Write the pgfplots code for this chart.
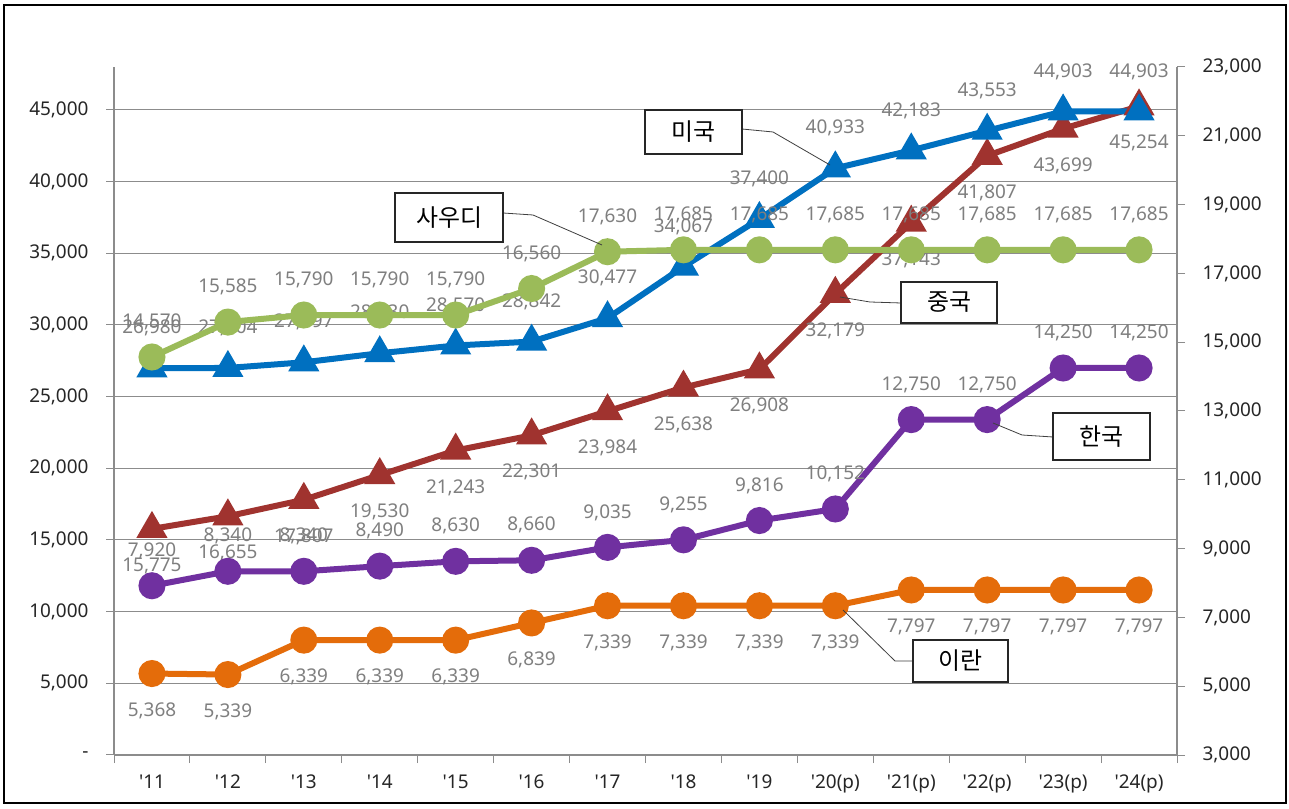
\documentclass[border=0pt]{standalone}
\usepackage{fontspec}
\setmainfont{Noto Sans}
\newfontfamily\kr{Noto Sans CJK KR}
\usepackage{pgfplots}
\pgfplotsset{compat=1.18}
\usepackage{pgfplotstable}

\definecolor{cUS}{HTML}{0070C0}
\definecolor{cSA}{HTML}{9BBB59}
\definecolor{cCN}{HTML}{A0332F}
\definecolor{cKR}{HTML}{7030A0}
\definecolor{cIR}{HTML}{E46C0A}
\definecolor{labc}{HTML}{7F7F7F}
\definecolor{gridc}{HTML}{8C8C8C}
\definecolor{tickc}{HTML}{262626}

\pgfplotstableread{
x us cn sa kr ir
0 26980 15775 14570 7920 5368
1 27004 16655 15585 8340 5339
2 27397 17807 15790 8340 6339
3 28030 19530 15790 8490 6339
4 28570 21243 15790 8630 6339
5 28842 22301 16560 8660 6839
6 30477 23984 17630 9035 7339
7 34067 25638 17685 9255 7339
8 37400 26908 17685 9816 7339
9 40933 32179 17685 10152 7339
10 42183 37143 17685 12750 7797
11 43553 41807 17685 12750 7797
12 44903 43699 17685 14250 7797
13 44903 45254 17685 14250 7797
}\data

\pgfplotsset{
  base/.style={
    at={(114bp,54bp)}, anchor=south west,
    scale only axis, width=1063bp, height=688bp,
    xmin=-0.5, xmax=13.5,
    scaled y ticks=false, scaled x ticks=false,
    axis line style={draw=gridc, line width=1.2bp},
    tick style={draw=gridc, line width=1bp},
    tick align=outside, major tick length=8bp,
    ticklabel style={font=\fontsize{19}{22}\selectfont, text=tickc},
    /pgf/number format/.cd, fixed, precision=0, 1000 sep={,}, assume math mode=true,
  },
  lbl/.style={
    nodes near coords={\pgfmathprintnumber{\pgfplotspointmeta}},
    every node near coord/.append style={font=\fontsize{19}{22}\selectfont, text=labc, anchor=center, yshift=#1},
  },
}

\begin{document}
\begin{tikzpicture}
\path[use as bounding box] (0,0) rectangle (1289bp,809bp);
\fill[white] (0,0) rectangle (1289bp,809bp);
\begin{axis}[base,
  ymin=0, ymax=48000,
  axis x line*=bottom, axis y line*=left,
  xtick={0,...,13},
  xticklabels={\textquotesingle11,\textquotesingle12,\textquotesingle13,\textquotesingle14,\textquotesingle15,\textquotesingle16,\textquotesingle17,\textquotesingle18,\textquotesingle19,\textquotesingle20(p),\textquotesingle21(p),\textquotesingle22(p),\textquotesingle23(p),\textquotesingle24(p)},
  xtick style={draw=none},
  xticklabel style={yshift=-8bp},
  extra x ticks={-0.5,0.5,...,13.5},
  extra x tick labels={},
  extra x tick style={xtick style={draw=gridc, line width=1bp}},
  ytick={0,5000,...,45000},
  yticklabels={-,{5,000},{10,000},{15,000},{20,000},{25,000},{30,000},{35,000},{40,000},{45,000}},
  yticklabel style={xshift=-14bp},
  ymajorgrids, grid style={draw=gridc, line width=1bp},
]
\addplot[cCN, line width=6bp, mark=triangle*, mark size=12bp, mark options={solid}, lbl=-37bp] table[x=x, y=cn] {\data};
\addplot[cUS, line width=6bp, mark=triangle*, mark size=12bp, mark options={solid}, lbl=40bp] table[x=x, y=us] {\data};
\end{axis}
\begin{axis}[base,
  ymin=3000, ymax=23000,
  axis x line=none, axis y line*=right,
  xtick=\empty,
  ytick={3000,5000,...,23000},
  yticklabel style={xshift=14bp},
]
\addplot[cIR, line width=6bp, mark=*, mark size=10.5bp, lbl=-37bp] table[x=x, y=ir] {\data};
\addplot[cKR, line width=6bp, mark=*, mark size=10.5bp, lbl=35bp] table[x=x, y=kr] {\data};
\addplot[cSA, line width=6bp, mark=*, mark size=10.5bp, lbl=35bp] table[x=x, y=sa] {\data};
\end{axis}
% callouts
\begin{scope}[every node/.style={draw=black!85, line width=1.5bp, fill=white, inner sep=0pt, font=\kr\fontsize{24}{26}\selectfont, text=black}]
\draw[line width=0.8bp, black!75] (742bp,680bp) -- (773bp,677bp) -- (830bp,644bp);
\node[minimum width=97bp, minimum height=44bp] at (693.5bp,677bp) {미국};
\draw[line width=0.8bp, black!75] (503bp,596bp) -- (533bp,594bp) -- (602bp,564bp);
\node[minimum width=108bp, minimum height=49bp] at (449bp,591.5bp) {사우디};
\draw[line width=0.8bp, black!75] (901bp,506bp) -- (870bp,507bp) -- (840bp,512bp);
\node[minimum width=96bp, minimum height=41bp] at (949bp,506.5bp) {중국};
\draw[line width=0.8bp, black!75] (1053bp,372bp) -- (1022bp,374bp) -- (993bp,386bp);
\node[minimum width=97bp, minimum height=47bp] at (1101.5bp,372.5bp) {한국};
\draw[line width=0.8bp, black!75] (913bp,148bp) -- (895bp,148bp) -- (843bp,199bp);
\node[minimum width=95bp, minimum height=42bp] at (960.5bp,148bp) {이란};
\end{scope}
\draw[line width=2bp, black] (4bp,6bp) rectangle (1286bp,804bp);
\end{tikzpicture}
\end{document}
